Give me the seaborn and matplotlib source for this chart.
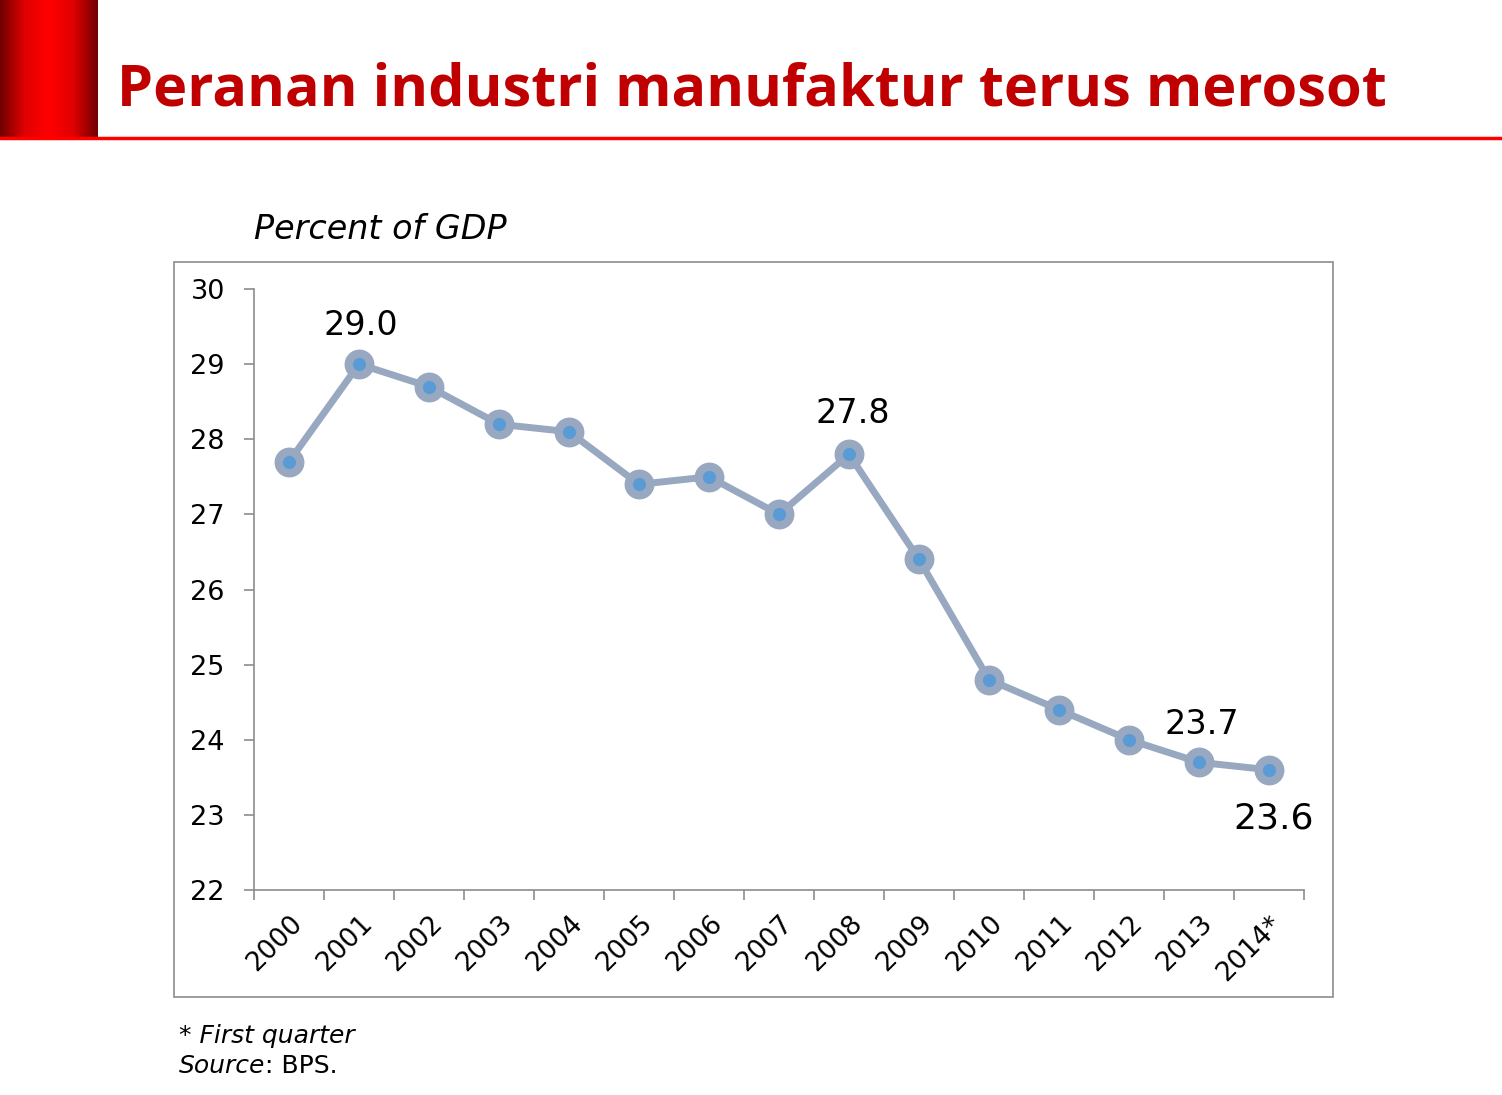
import numpy as np
import pandas as pd
import seaborn as sns
import matplotlib.pyplot as plt
from matplotlib.colors import LinearSegmentedColormap
from matplotlib.patches import Rectangle
from matplotlib.lines import Line2D

years = ['2000', '2001', '2002', '2003', '2004', '2005', '2006', '2007',
         '2008', '2009', '2010', '2011', '2012', '2013', '2014*']
share = [27.7, 29.0, 28.7, 28.2, 28.1, 27.4, 27.5, 27.0,
         27.8, 26.4, 24.8, 24.4, 24.0, 23.7, 23.6]
labelled = ['2001', '2008', '2013', '2014*']
yticks = [22, 23, 24, 25, 26, 27, 28, 29, 30]

df = pd.DataFrame({'year': years, 'share': share})
df['pos'] = range(len(df))

sns.set_style('white')
plt.rcParams['font.family'] = ['DejaVu Sans']
plt.rcParams['text.color'] = 'black'
plt.rcParams['xtick.color'] = 'black'
plt.rcParams['ytick.color'] = 'black'

fig = plt.figure(figsize=(15.02, 10.95), dpi=100)

# header: gradient block, title, red rule
grad = fig.add_axes([0, 1 - 137 / 1095, 97 / 1502, 137 / 1095])
g = np.abs(np.linspace(-1, 1, 200))
grad.imshow(g[None, :], aspect='auto', extent=[0, 1, 0, 1],
            cmap=LinearSegmentedColormap.from_list('r', ['#ff0000', '#e00000', '#700000']))
grad.axis('off')
fig.add_artist(Line2D([0, 1], [1 - 137.5 / 1095] * 2, color='#ff0000', lw=2.5))
fig.text(117 / 1502, 1 - 90 / 1095, 'Peranan industri manufaktur terus merosot',
         color='#c00000', fontsize=41.5, fontweight='bold', family='Open Sans',
         va='center', ha='left')

# chart frame
fig.add_artist(Rectangle((174 / 1502, 1 - 997 / 1095), (1333 - 174) / 1502, (997 - 262) / 1095,
                         fill=False, edgecolor='#8c8c8c', lw=1.2))

ax = fig.add_axes([254 / 1502, 1 - 890 / 1095, (1304 - 254) / 1502, (890 - 289) / 1095])
sns.lineplot(data=df, x='pos', y='share', ax=ax, color='#98a8c0', lw=5,
             marker='o', markersize=15.5, markeredgewidth=6,
             markerfacecolor='#5b9bd5', markeredgecolor='#98a8c0')

ax.set_xlim(-0.5, len(years) - 0.5)
ax.set_ylim(yticks[0], yticks[-1])
ax.set_yticks(yticks)
ax.set_xticks(df['pos'])
ax.set_xticklabels(years, rotation=45, ha='right', rotation_mode='anchor', fontsize=19)
ax.set_xticks(np.arange(-0.5, len(years)), minor=True)
ax.tick_params(axis='x', which='major', length=0, pad=15)
ax.tick_params(axis='x', which='minor', length=7, color='#8c8c8c', width=1.2, direction='out', bottom=True)
ax.tick_params(axis='y', length=7, color='#8c8c8c', width=1.2, direction='out', left=True,
               labelsize=19.5, pad=14, labelcolor='black')
ax.tick_params(axis='x', labelcolor='black')
ax.set_xlabel('')
ax.set_ylabel('')
for s in ['top', 'right']:
    ax.spines[s].set_visible(False)
for s in ['left', 'bottom']:
    ax.spines[s].set_color('#8c8c8c')
    ax.spines[s].set_linewidth(1.2)

offsets = {'2001': (1, 28), '2008': (3, 29), '2013': (2, 27), '2014*': (3, -35)}
for _, r in df[df['year'].isin(labelled)].iterrows():
    ax.annotate(f"{r['share']:.1f}", (r['pos'], r['share']), xytext=offsets[r['year']],
                textcoords='offset points', ha='center', va='center', color='black',
                fontsize=26 if r['year'] == '2014*' else 24)

fig.text(254 / 1502, 1 - 229 / 1095, 'Percent of GDP', fontsize=24, style='italic', va='center')
fig.text(179 / 1502, 1 - 1036 / 1095, '* First quarter', fontsize=18, style='italic', va='center')
src = fig.text(179 / 1502, 1 - 1066 / 1095, 'Source', fontsize=18, style='italic', va='center')
fig.canvas.draw()
bb = src.get_window_extent()
fig.text(bb.x1 / fig.bbox.width, 1 - 1066 / 1095, ': BPS.', fontsize=18, va='center')

fig.savefig('out.png', dpi=100)
